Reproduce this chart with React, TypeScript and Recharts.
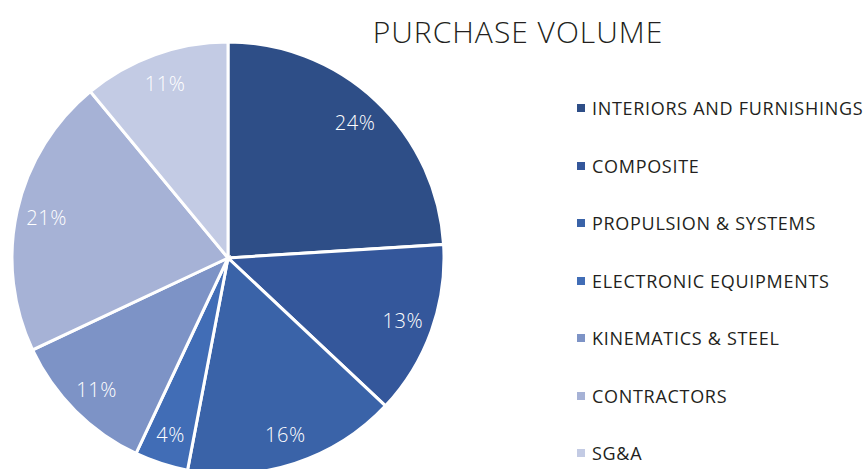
import React from "react";
import { PieChart, Pie, Cell, Legend } from "recharts";

const categories = [
  "INTERIORS AND FURNISHINGS",
  "COMPOSITE",
  "PROPULSION & SYSTEMS",
  "ELECTRONIC EQUIPMENTS",
  "KINEMATICS & STEEL",
  "CONTRACTORS",
  "SG&A",
];
const shares = [24, 13, 16, 4, 11, 21, 11];
const colors = ["#2E4E87", "#34579B", "#3A63A8", "#416DB6", "#7D93C6", "#A6B2D6", "#C3CBE4"];
const title = "PURCHASE VOLUME";

const data = categories.map((name, i) => ({ name, value: shares[i] }));

const FONT = "'Open Sans', 'Noto Sans', sans-serif";
const RAD = Math.PI / 180;

const renderLabel = (props: any) => {
  const { cx, cy, midAngle, outerRadius, value } = props;
  const r = outerRadius * 0.86;
  const x = cx + r * Math.cos(-midAngle * RAD);
  const y = cy + r * Math.sin(-midAngle * RAD);
  return (
    <text
      x={x}
      y={y}
      fill="#FFFFFF"
      textAnchor="middle"
      dominantBaseline="central"
      fontFamily={FONT}
      fontSize={20}
      fontWeight={300}
      letterSpacing={0.6}
    >
      {`${value}%`}
    </text>
  );
};

const renderLegend = () => (
  <div style={{ position: "relative", width: 300, height: 400 }}>
    {categories.map((c, i) => (
      <div
        key={c}
        style={{
          position: "absolute",
          left: 0,
          top: i * 57.5,
          display: "flex",
          alignItems: "center",
          whiteSpace: "nowrap",
          fontFamily: FONT,
          fontSize: 18,
          letterSpacing: 0.7,
          color: "#231F20",
          lineHeight: "24px",
          height: 24,
        }}
      >
        <span
          style={{
            display: "inline-block",
            width: 8,
            height: 8,
            background: colors[i],
            marginRight: 7,
          }}
        />
        {c}
      </div>
    ))}
  </div>
);

export default function App() {
  return (
    <div style={{ position: "absolute", left: 0, top: 0, width: 864, height: 469, background: "#fff", overflow: "hidden" }}>
      <div
        style={{
          position: "absolute",
          left: 318,
          width: 400,
          top: 11,
          textAlign: "center",
          fontFamily: FONT,
          fontSize: 30,
          fontWeight: 300,
          letterSpacing: 1,
          color: "#231F20",
          whiteSpace: "nowrap",
        }}
      >
        {title}
      </div>
      <PieChart width={864} height={469} margin={{ top: 0, right: 0, bottom: 0, left: 0 }}>
        <Pie
          data={data}
          dataKey="value"
          nameKey="name"
          cx={228}
          cy={258}
          outerRadius={216}
          startAngle={90}
          endAngle={-270}
          stroke="#FFFFFF"
          strokeWidth={3}
          label={renderLabel}
          labelLine={false}
          isAnimationActive={false}
        >
          {data.map((d, i) => (
            <Cell key={d.name} fill={colors[i]} />
          ))}
        </Pie>
        <Legend
          content={renderLegend}
          wrapperStyle={{ position: "absolute", left: 577, top: 96, width: 300 }}
        />
      </PieChart>
    </div>
  );
}
